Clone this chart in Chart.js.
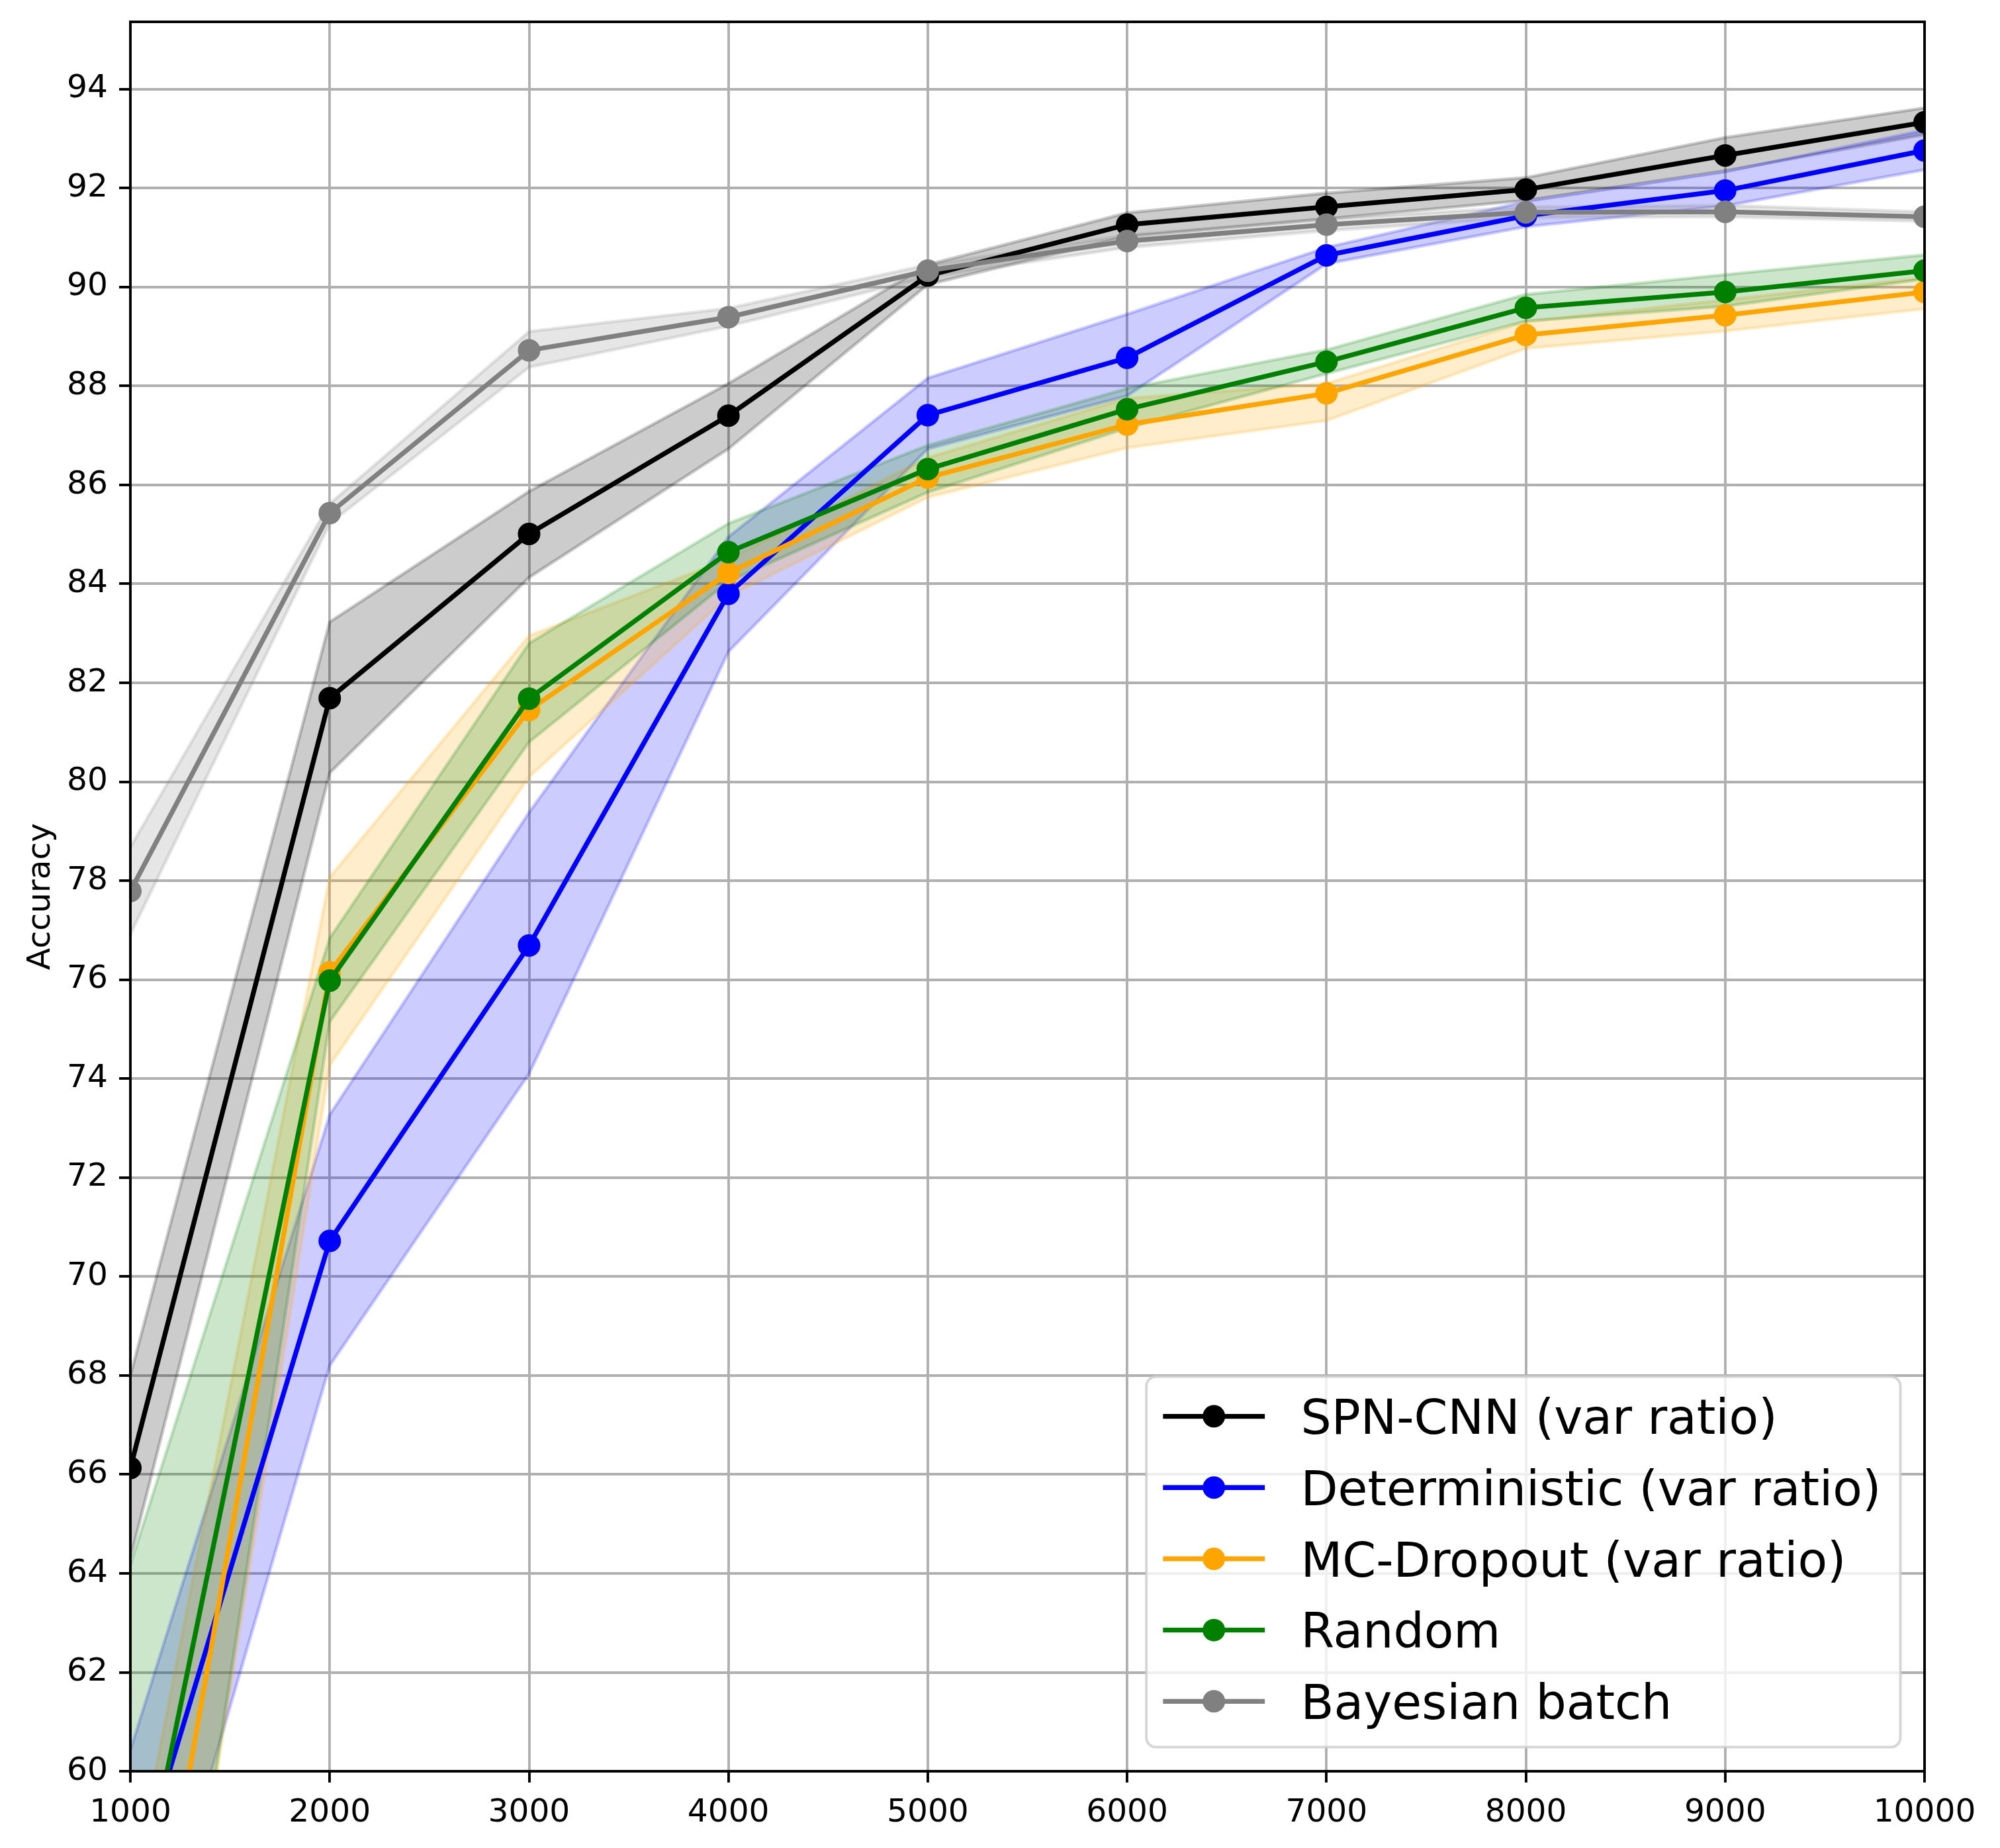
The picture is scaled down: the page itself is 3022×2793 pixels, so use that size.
<!DOCTYPE html>
<html>
<head>
<meta charset="utf-8">
<script src="https://cdn.jsdelivr.net/npm/chart.js@4.4.1/dist/chart.umd.min.js"></script>
<style>html,body{margin:0;padding:0;background:#fff}canvas{display:block}</style>
</head>
<body>
<canvas id="c" width="3022" height="2793"></canvas>
<script>
// ---- data ----
const xValues = [1000, 2000, 3000, 4000, 5000, 6000, 7000, 8000, 9000, 10000];
const xTicks = [1000, 2000, 3000, 4000, 5000, 6000, 7000, 8000, 9000, 10000];
const yTicks = [60, 62, 64, 66, 68, 70, 72, 74, 76, 78, 80, 82, 84, 86, 88, 90, 92, 94];
const seriesNames = ['SPN-CNN (var ratio)', 'Deterministic (var ratio)', 'MC-Dropout (var ratio)', 'Random', 'Bayesian batch'];

const spnMean  = [66.13, 81.69, 85.01, 87.40, 90.23, 91.26, 91.62, 91.97, 92.66, 93.33];
const spnUpper = [68.00, 83.23, 85.87, 88.05, 90.45, 91.50, 91.90, 92.21, 93.02, 93.62];
const spnLower = [64.30, 80.18, 84.13, 86.73, 90.05, 91.02, 91.38, 91.75, 92.35, 93.08];

const detMean  = [57.40, 70.72, 76.69, 83.80, 87.41, 88.57, 90.64, 91.44, 91.95, 92.76];
const detUpper = [60.43, 73.27, 79.38, 84.95, 88.16, 89.45, 90.80, 91.73, 92.33, 93.17];
const detLower = [54.40, 68.20, 74.10, 82.63, 86.73, 87.80, 90.47, 91.22, 91.64, 92.37];

const mcMean   = [53.20, 76.15, 81.45, 84.22, 86.15, 87.22, 87.85, 89.03, 89.43, 89.90];
const mcUpper  = [57.40, 78.07, 82.95, 84.50, 86.55, 87.75, 88.05, 89.30, 89.74, 90.19];
const mcLower  = [49.00, 74.27, 80.10, 83.75, 85.75, 86.75, 87.30, 88.76, 89.11, 89.56];

const rndMean  = [56.40, 75.98, 81.68, 84.64, 86.32, 87.53, 88.49, 89.58, 89.90, 90.33];
const rndUpper = [64.17, 76.84, 82.80, 85.22, 86.80, 87.95, 88.73, 89.85, 90.25, 90.65];
const rndLower = [48.60, 75.15, 80.80, 84.05, 85.85, 87.15, 88.25, 89.31, 89.61, 90.16];

const bayMean  = [77.79, 85.43, 88.72, 89.39, 90.33, 90.93, 91.26, 91.51, 91.52, 91.42];
const bayUpper = [78.68, 85.62, 89.10, 89.57, 90.45, 91.05, 91.38, 91.62, 91.65, 91.52];
const bayLower = [76.92, 85.22, 88.38, 89.21, 90.20, 90.80, 91.14, 91.40, 91.42, 91.33];

// ---- styling ----
const DPI = 350 / 72;            // px per pt
const rgb = [[0,0,0],[0,0,255],[255,165,0],[0,128,0],[128,128,128]];
const means  = [spnMean, detMean, mcMean, rndMean, bayMean];
const uppers = [spnUpper, detUpper, mcUpper, rndUpper, bayUpper];
const lowers = [spnLower, detLower, mcLower, rndLower, bayLower];
const pts = arr => arr.map((v, i) => ({x: xValues[i], y: v}));
const col = (k, a) => `rgba(${rgb[k][0]},${rgb[k][1]},${rgb[k][2]},${a})`;

const datasets = [];
seriesNames.forEach((name, k) => {
  datasets.push({
    label: name + ' upper', data: pts(uppers[k]), fill: '+1',
    backgroundColor: col(k, 0.2), borderColor: col(k, 0.2), borderWidth: 1.0 * DPI,
    pointRadius: 0, tension: 0, order: 40 - k, clip: 0, isBand: true
  });
  datasets.push({
    label: name + ' lower', data: pts(lowers[k]), fill: false,
    backgroundColor: col(k, 0.2), borderColor: col(k, 0.2), borderWidth: 1.0 * DPI,
    pointRadius: 0, tension: 0, order: 40 - k, clip: 0, isBand: true
  });
});
seriesNames.forEach((name, k) => {
  datasets.push({
    label: name, data: pts(means[k]), fill: false,
    borderColor: col(k, 1), backgroundColor: col(k, 1), borderWidth: 1.5 * DPI,
    borderJoinStyle: 'round',
    pointRadius: 3 * DPI, pointBackgroundColor: col(k, 1), pointBorderColor: col(k, 1),
    pointBorderWidth: 1.0 * DPI, tension: 0, order: 14 - k, clip: 0, isBand: false
  });
});

const tickFont = {family: 'DejaVu Sans', size: 10 * DPI};

const framePlugin = {
  id: 'frameAndLegend',
  afterDatasetsDraw(chart) {
    const {ctx, chartArea: a} = chart;
    ctx.save();
    // spines
    ctx.strokeStyle = '#000';
    ctx.lineWidth = 0.8 * DPI;
    ctx.lineJoin = 'miter';
    ctx.strokeRect(a.left, a.top, a.right - a.left, a.bottom - a.top);

    // legend (lower right, matplotlib style)
    const fs = 15 * DPI;
    ctx.font = `${fs}px "DejaVu Sans"`;
    const lineSets = chart.data.datasets.filter(d => !d.isBand);
    const maxW = Math.max(...lineSets.map(d => ctx.measureText(d.label).width));
    const pad = 0.4 * fs, hl = 2.0 * fs, htp = 0.8 * fs, bap = 0.5 * fs;
    const rowH = 107.7;
    const w = pad + hl + htp + maxW + pad;
    const h = 560;
    const right = a.right - bap, bottom = a.bottom - bap;
    const left = right - w, top = bottom - h;
    ctx.beginPath();
    ctx.roundRect(left, top, w, h, 0.2 * fs);
    ctx.fillStyle = 'rgba(255,255,255,0.8)';
    ctx.fill();
    ctx.strokeStyle = 'rgba(204,204,204,0.8)';
    ctx.lineWidth = 0.8 * DPI;
    ctx.stroke();
    lineSets.forEach((d, i) => {
      const cy = top + 60 + i * rowH;
      const x0 = left + pad, x1 = x0 + hl;
      ctx.strokeStyle = d.borderColor;
      ctx.lineWidth = d.borderWidth;
      ctx.lineCap = 'butt';
      ctx.beginPath(); ctx.moveTo(x0 - 4, cy); ctx.lineTo(x1 + 4, cy); ctx.stroke();
      ctx.beginPath();
      ctx.arc((x0 + x1) / 2, cy, d.pointRadius + d.pointBorderWidth / 2, 0, Math.PI * 2);
      ctx.fillStyle = d.borderColor; ctx.fill();
      ctx.fillStyle = '#000';
      ctx.textBaseline = 'alphabetic';
      ctx.textAlign = 'left';
      ctx.fillText(d.label, x1 + htp, cy + 0.365 * fs);
    });
    ctx.restore();
  }
};

new Chart(document.getElementById('c'), {
  type: 'line',
  data: {datasets},
  plugins: [framePlugin],
  options: {
    responsive: false, animation: false, devicePixelRatio: 1, events: [],
    layout: {padding: {top: 33, right: 114, left: 0, bottom: 0}},
    plugins: {legend: {display: false}, tooltip: {enabled: false}, title: {display: false}},
    scales: {
      x: {
        type: 'linear', min: 1000, max: 10000,
        afterBuildTicks: s => { s.ticks = xTicks.map(v => ({value: v})); },
        afterFit: s => { s.height = 116; s.paddingLeft = 0; s.paddingRight = 0; },
        ticks: {font: tickFont, color: '#000', padding: 3.5 * DPI, maxRotation: 0, autoSkip: false,
                callback: v => String(v)},
        grid: {color: '#b0b0b0', lineWidth: 0.8 * DPI, tickColor: '#000', tickLength: 3.5 * DPI,
               tickWidth: 0.8 * DPI, drawTicks: true},
        border: {display: false}
      },
      y: {
        type: 'linear', min: 60, max: 95.36,
        afterBuildTicks: s => { s.ticks = yTicks.map(v => ({value: v})); },
        afterFit: s => { s.width = 197; s.paddingTop = 0; s.paddingBottom = 0; },
        title: {display: true, text: 'Accuracy', font: tickFont, color: '#000', padding: {top: 33, bottom: 0}},
        ticks: {font: tickFont, color: '#000', padding: 3.5 * DPI, autoSkip: false,
                callback: v => String(v)},
        grid: {color: '#b0b0b0', lineWidth: 0.8 * DPI, tickColor: '#000', tickLength: 3.5 * DPI,
               tickWidth: 0.8 * DPI, drawTicks: true},
        border: {display: false}
      }
    }
  }
});
</script>
</body>
</html>
